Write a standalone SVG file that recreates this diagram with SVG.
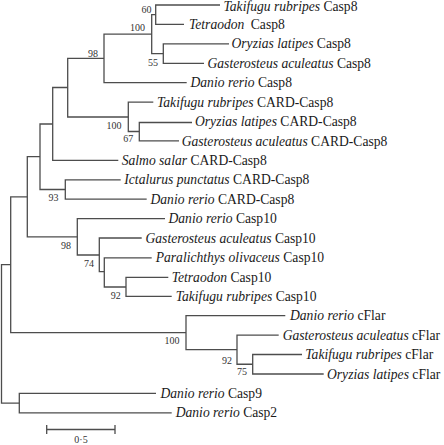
<svg xmlns="http://www.w3.org/2000/svg" width="444" height="445" viewBox="0 0 444 445">
<style>
.br{fill:none;stroke:#4d4d4d;stroke-width:1.3;stroke-linejoin:miter}
.lf{font-family:"Liberation Serif","Times New Roman",serif;font-size:13.6px;fill:#1a1a1a}
.sp{font-style:italic}
.bs{font-family:"Liberation Serif","Times New Roman",serif;font-size:10px;fill:#333}
</style>
<rect width="444" height="445" fill="#fff"/>
<g id="connectors">
<path class="br" d="M10.7 264.7 H1.5 V403.1 H19.3"/>
<path class="br" d="M27.3 196.8 H10.7 V332.7 H186"/>
<path class="br" d="M40 156.7 H27.3 V236.8 H77.3"/>
<path class="br" d="M52.7 124 H40 V189.5 H65.3"/>
<path class="br" d="M67.7 87.5 H52.7 V160.4 H118.3"/>
<path class="br" d="M104 58.4 H67.7 V117 H128.3"/>
<path class="br" d="M151.7 34.1 H104 V82.7 H186.7"/>
<path class="br" d="M155.7 14.7 H151.7 V53.55 H163.3"/>
<path class="br" d="M220 5 H155.7 V24.4 H184"/>
<path class="br" d="M229 43.8 H163.3 V63.3 H204"/>
<path class="br" d="M153.3 102.1 H128.3 V131.5 H139.3"/>
<path class="br" d="M192 122.5 H139.3 V140.9 H179"/>
<path class="br" d="M120.7 179.8 H65.3 V199.2 H146.7"/>
<path class="br" d="M165 218.6 H77.3 V255 H99.3"/>
<path class="br" d="M141.7 238 H99.3 V271.7 H104.3"/>
<path class="br" d="M151.7 257.8 H104.3 V287 H126"/>
<path class="br" d="M168.3 277.3 H126 V296.3 H171.7"/>
<path class="br" d="M285.3 315.7 H186 V349.7 H237"/>
<path class="br" d="M278.7 335.1 H237 V364.25 H252.7"/>
<path class="br" d="M302 354.5 H252.7 V374 H323.7"/>
<path class="br" d="M156 393.4 H19.3 V412.8 H171.7"/>
</g>
<g id="supports">
<text class="bs" x="141.5" y="12.5">60</text>
<text class="bs" x="130" y="30.5">100</text>
<text class="bs" x="148" y="66">55</text>
<text class="bs" x="88" y="57">98</text>
<text class="bs" x="106.5" y="128.5">100</text>
<text class="bs" x="123.3" y="141.5">67</text>
<text class="bs" x="48.5" y="200.5">93</text>
<text class="bs" x="61" y="249">98</text>
<text class="bs" x="84" y="266.7">74</text>
<text class="bs" x="110.7" y="299">92</text>
<text class="bs" x="164.5" y="343.5">100</text>
<text class="bs" x="222" y="363.5">92</text>
<text class="bs" x="237" y="375">75</text>
</g>
<g id="leaf1"><text class="lf" x="223.5" y="10.8"><tspan class="sp">Takifugu rubripes</tspan> Casp8</text></g>
<g id="leaf2"><text class="lf" x="189" y="29"><tspan class="sp">Tetraodon</tspan><tspan dx="3"> Casp8</tspan></text></g>
<g id="leaf3"><text class="lf" x="231.5" y="48.4"><tspan class="sp">Oryzias latipes</tspan> Casp8</text></g>
<g id="leaf4"><text class="lf" x="207.5" y="67.9"><tspan class="sp">Gasterosteus aculeatus</tspan> Casp8</text></g>
<g id="leaf5"><text class="lf" x="190.5" y="87.3"><tspan class="sp">Danio rerio</tspan> Casp8</text></g>
<g id="leaf6"><text class="lf" x="157" y="106.7"><tspan class="sp">Takifugu rubripes</tspan> CARD-Casp8</text></g>
<g id="leaf7"><text class="lf" x="195" y="126.1"><tspan class="sp">Oryzias latipes</tspan> CARD-Casp8</text></g>
<g id="leaf8"><text class="lf" x="181.7" y="145.5"><tspan class="sp">Gasterosteus aculeatus</tspan> CARD-Casp8</text></g>
<g id="leaf9"><text class="lf" x="121.7" y="165"><tspan class="sp">Salmo salar</tspan> CARD-Casp8</text></g>
<g id="leaf10"><text class="lf" x="124.3" y="184.4"><tspan class="sp">Ictalurus punctatus</tspan> CARD-Casp8</text></g>
<g id="leaf11"><text class="lf" x="150.5" y="203.8"><tspan class="sp">Danio rerio</tspan> CARD-Casp8</text></g>
<g id="leaf12"><text class="lf" x="168.5" y="223.2"><tspan class="sp">Danio rerio</tspan> Casp10</text></g>
<g id="leaf13"><text class="lf" x="145.5" y="242.6"><tspan class="sp">Gasterosteus aculeatus</tspan> Casp10</text></g>
<g id="leaf14"><text class="lf" x="155.7" y="262.1"><tspan class="sp">Paralichthys olivaceus</tspan> Casp10</text></g>
<g id="leaf15"><text class="lf" x="171.7" y="281.5"><tspan class="sp">Tetraodon</tspan> Casp10</text></g>
<g id="leaf16"><text class="lf" x="175.7" y="300.9"><tspan class="sp">Takifugu rubripes</tspan> Casp10</text></g>
<g id="leaf17"><text class="lf" x="290" y="320.3"><tspan class="sp">Danio rerio</tspan> cFlar</text></g>
<g id="leaf18"><text class="lf" x="282.7" y="339.7"><tspan class="sp">Gasterosteus aculeatus</tspan> cFlar</text></g>
<g id="leaf19"><text class="lf" x="305.3" y="359.1"><tspan class="sp">Takifugu rubripes</tspan> cFlar</text></g>
<g id="leaf20"><text class="lf" x="327" y="378.6"><tspan class="sp">Oryzias latipes</tspan> cFlar</text></g>
<g id="leaf21"><text class="lf" x="160.5" y="398"><tspan class="sp">Danio rerio</tspan> Casp9</text></g>
<g id="leaf22"><text class="lf" x="175.7" y="417.4"><tspan class="sp">Danio rerio</tspan> Casp2</text></g>
<g id="scale">
<path class="br" d="M46.7 429.5 H115 M46.7 425 V434 M115 425 V434"/>
<text class="bs" x="81" y="443" text-anchor="middle">0·5</text>
</g>
</svg>
